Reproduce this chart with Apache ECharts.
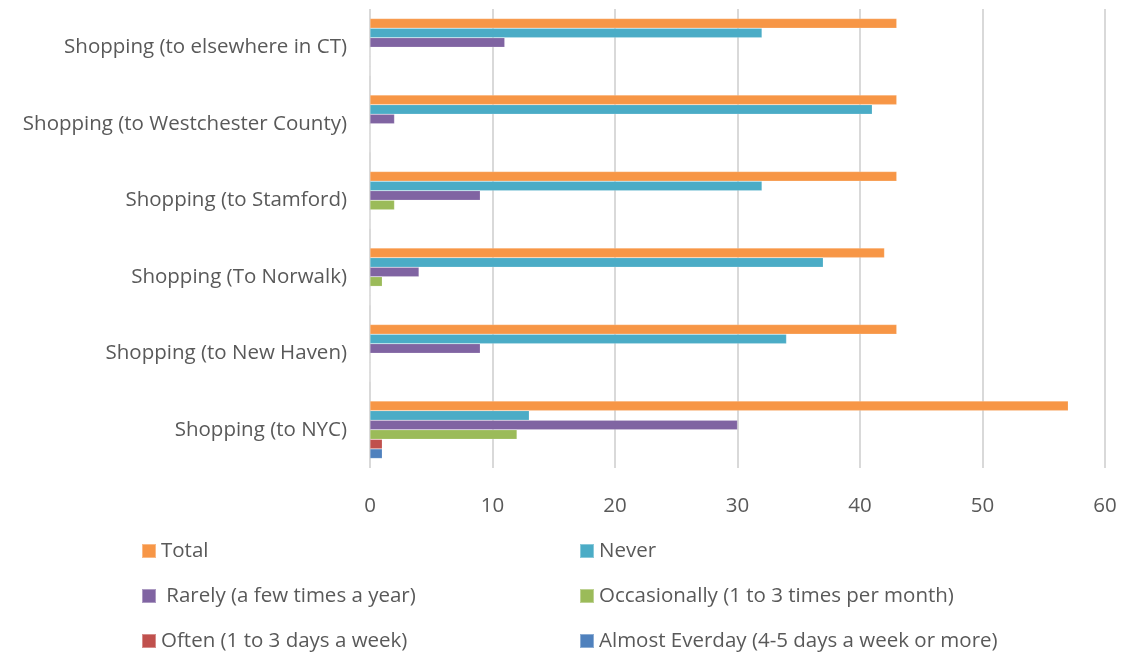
<!DOCTYPE html>
<html>
<head>
<meta charset="utf-8">
<script src="https://cdn.jsdelivr.net/npm/echarts@6/dist/echarts.min.js"></script>
<style>
  html, body { margin: 0; padding: 0; background: #ffffff; }
  #chart { width: 1122px; height: 655px; }
</style>
</head>
<body>
<div id="chart"></div>
<script>
// Trip destinations, listed from the bottom of the axis upward
const categories = [
  'Shopping (to NYC)',
  'Shopping (to New Haven)',
  'Shopping (To Norwalk)',
  'Shopping (to Stamford)',
  'Shopping (to Westchester County)',
  'Shopping (to elsewhere in CT)'
];

const seriesNames = [
  'Total',
  'Never',
  ' Rarely (a few times a year)',
  'Occasionally (1 to 3 times per month)',
  'Often (1 to 3 days a week)',
  'Almost Everday (4-5 days a week or more)'
];

const total        = [57, 43, 42, 43, 43, 43];
const never        = [13, 34, 37, 32, 41, 32];
const rarely       = [30,  9,  4,  9,  2, 11];
const occasionally = [12,  0,  1,  2,  0,  0];
const often        = [ 1,  0,  0,  0,  0,  0];
const almostDaily  = [ 1,  0,  0,  0,  0,  0];

const xTicks = [0, 10, 20, 30, 40, 50, 60];

const colors = ['#F79646', '#4BACC6', '#8064A2', '#9BBB59', '#C0504D', '#4F81BD'];
const values = [total, never, rarely, occasionally, often, almostDaily];

const FONT = 'Open Sans';
const TEXT = '#595959';
const FS = 20.5;

const chart = echarts.init(document.getElementById('chart'), null, { renderer: 'canvas' });

const series = seriesNames.map((name, i) => ({
  name: name,
  type: 'bar',
  data: values[i],
  barGap: '0%',
  barCategoryGap: '25%',
  itemStyle: { color: colors[i], borderColor: 'rgba(255,255,255,0.35)', borderWidth: 0.5 },
  emphasis: { disabled: true }
}));

const legendText = { fontFamily: FONT, fontSize: FS, color: TEXT, lineHeight: 24, padding: [0, 0, 0, 0] };

// Two legend columns of three entries each
const legendColumn = (left, names) => ({
  orient: 'vertical',
  left: left,
  top: 539,
  padding: 0,
  itemGap: 21,
  itemWidth: 14,
  itemHeight: 14,
  icon: 'rect',
  textStyle: legendText,
  data: names,
  selectedMode: false
});

chart.setOption({
  animation: false,
  color: colors,
  grid: { left: 370, right: 17, top: 9, bottom: 187, containLabel: false },
  xAxis: {
    type: 'value',
    min: xTicks[0],
    max: xTicks[xTicks.length - 1],
    interval: 10,
    axisLine: { show: false },
    axisTick: { show: false },
    axisLabel: { fontFamily: FONT, fontSize: FS, color: TEXT, margin: 28 },
    splitLine: { show: true, lineStyle: { color: '#D9D9D9', width: 2 } }
  },
  yAxis: {
    type: 'category',
    data: categories,
    axisLine: { show: false },
    axisTick: { show: false },
    axisLabel: { fontFamily: FONT, fontSize: FS, color: TEXT, margin: 23 }
  },
  legend: [
    legendColumn(141, [seriesNames[0], seriesNames[2], seriesNames[4]]),
    legendColumn(579, [seriesNames[1], seriesNames[3], seriesNames[5]])
  ],
  series: series
});
</script>
</body>
</html>
